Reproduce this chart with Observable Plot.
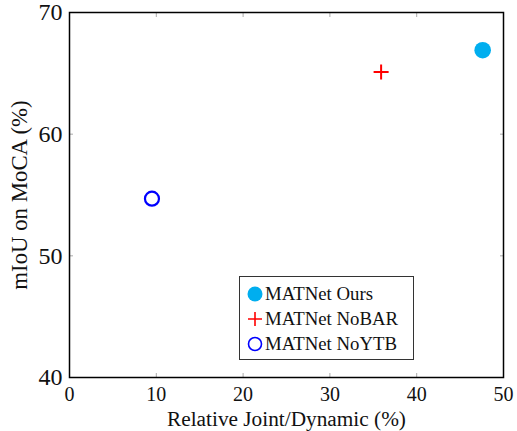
<!DOCTYPE html>
<html>
<head>
<meta charset="utf-8">
<script src="https://cdn.jsdelivr.net/npm/d3@7"></script>
<script src="https://cdn.jsdelivr.net/npm/@observablehq/plot@0.6"></script>
<style>
  html, body { margin: 0; padding: 0; background: #fff; }
  #wrap { position: relative; width: 517px; height: 431px; }
  #legend {
    position: absolute; left: 239px; top: 276px; width: 175px; height: 84px;
    border: 1.3px solid #333; box-sizing: border-box; background: #fff;
    font-family: "Liberation Serif", serif; font-size: 18.8px; color: #111;
    padding-top: 4px;
  }
  .row { display: flex; align-items: center; height: 25px; padding-left: 6px; }
  .row svg { width: 18px; height: 18px; margin-right: 1px; }
</style>
</head>
<body>
<div id="wrap"><div id="chart"></div><div id="legend"></div></div>
<script>
const methods = ["MATNet Ours", "MATNet NoBAR", "MATNet NoYTB"];
const relJointDynamic = [47.6, 35.9, 9.5];
const miou = [66.9, 65.1, 54.7];
const xTicks = [0, 10, 20, 30, 40, 50];
const yTicks = [40, 50, 60, 70];
const colors = ["#00AEEF", "#FF0000", "#0000FF"];
const xLabel = "Relative Joint/Dynamic (%)";
const yLabel = "mIoU on MoCA (%)";

const data = methods.map((m, i) => ({method: m, x: relJointDynamic[i], y: miou[i]}));
const font = "Liberation Serif";

const plot = Plot.plot({
  width: 517, height: 431,
  marginLeft: 69, marginRight: 14, marginTop: 12, marginBottom: 54,
  style: {fontFamily: font, fontSize: "20px", color: "#111", background: "#fff"},
  x: {domain: [0, 50]},
  y: {domain: [40, 70]},
  marks: [
    Plot.axisX({ticks: xTicks, tickSize: -4, stroke: "#aaa", text: null, label: null}),
    Plot.axisX({ticks: xTicks, anchor: "top", tickSize: -4, stroke: "#aaa", text: null, label: null}),
    Plot.axisY({ticks: yTicks, tickSize: -4, stroke: "#aaa", text: null, label: null}),
    Plot.axisY({ticks: yTicks, anchor: "right", tickSize: -4, stroke: "#aaa", text: null, label: null}),
    Plot.axisX({ticks: xTicks, tickSize: 0, tickPadding: 9, fontSize: 20, label: xLabel, labelAnchor: "center", labelOffset: 48, labelArrow: "none"}),
    Plot.axisY({ticks: yTicks, tickSize: 0, tickPadding: 7, fontSize: 24, label: yLabel, labelAnchor: "center", labelOffset: 59, labelArrow: "none"}),
    Plot.frame({stroke: "#000", strokeWidth: 1.5}),
    Plot.dot(data.filter(d => d.method === methods[0]), {x: "x", y: "y", r: 8.3, fill: colors[0], stroke: "none"}),
    Plot.dot(data.filter(d => d.method === methods[1]), {x: "x", y: "y", r: 4.9, symbol: "plus", stroke: colors[1], strokeWidth: 2}),
    Plot.dot(data.filter(d => d.method === methods[2]), {x: "x", y: "y", r: 7, fill: "none", stroke: colors[2], strokeWidth: 2.2})
  ]
});
document.getElementById("chart").appendChild(plot);

plot.querySelectorAll("text").forEach(t => {
  const s = t.textContent.trim();
  t.style.fontFamily = "Liberation Serif";
  if (s === xLabel) t.style.fontSize = "21.3px";
  if (s === yLabel) t.style.fontSize = "22.8px";
});

const markers = [
  '<svg viewBox="-9 -9 18 18"><circle r="7.5" fill="' + colors[0] + '"/></svg>',
  '<svg viewBox="-9 -9 18 18"><path d="M-7,0H7M0,-7V7" stroke="' + colors[1] + '" stroke-width="1.6"/></svg>',
  '<svg viewBox="-9 -9 18 18"><circle r="6.5" fill="none" stroke="' + colors[2] + '" stroke-width="1.6"/></svg>'
];
document.getElementById("legend").innerHTML = methods.map((m, i) =>
  '<div class="row">' + markers[i] + '<span>' + m + '</span></div>').join("");
</script>
</body>
</html>
